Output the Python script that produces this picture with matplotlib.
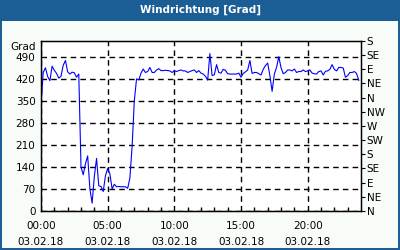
import numpy as np
import pandas as pd
import matplotlib
matplotlib.use("Agg")
import matplotlib.pyplot as plt
import matplotlib.dates as mdates
from matplotlib.patches import Rectangle

# wind direction, 10-minute values, 03.02.18 00:00 .. 23:50
wind_dir = [
    335, 440, 455, 427, 414, 460,
    447, 437, 422, 428, 463, 478,
    442, 435, 441, 439, 425, 435,
    140, 115, 150, 175, 70, 25,
    110, 167, 80, 78, 62, 112,
    135, 118, 70, 85, 77, 78,
    77, 77, 77, 72, 105, 205,
    351, 420, 416, 438, 451, 440,
    443, 456, 440, 440, 448, 452,
    446, 446, 447, 446, 445, 440,
    446, 443, 446, 448, 445, 445,
    440, 443, 446, 448, 440, 446,
    438, 435, 428, 416, 500, 430,
    433, 465, 440, 438, 450, 447,
    436, 435, 435, 435, 435, 438,
    425, 437, 442, 448, 478, 437,
    440, 440, 436, 432, 450, 462,
    470, 430, 380, 435, 456, 490,
    456, 436, 440, 448, 448, 445,
    451, 440, 443, 443, 448, 443,
    445, 448, 438, 436, 435, 443,
    445, 432, 444, 445, 450, 465,
    450, 445, 456, 456, 454, 425,
    430, 440, 440, 443, 437, 415,
]
times = pd.date_range("2018-02-03 00:00", periods=len(wind_dir), freq="10min")

left_ticks = [0, 70, 140, 210, 280, 350, 420, 490]
right_ticks = [0, 45, 90, 135, 180, 225, 270, 315, 360, 405, 450, 495, 540]
right_labels = ["N", "NE", "E", "SE", "S", "SW", "W", "NW", "N", "NE", "E", "SE", "S"]

frame_blue = "#1b5e95"
panel_bg = "#f8fcf8"

plt.rcParams["font.family"] = "DejaVu Sans"
plt.rcParams["font.size"] = 7.5

fig = plt.figure(figsize=(4, 2.5), dpi=100)
fig.patch.set_facecolor(frame_blue)
fig.add_artist(Rectangle((2 / 400, 2 / 250), 396 / 400, 227 / 250,
                         transform=fig.transFigure, facecolor=panel_bg,
                         edgecolor="none", zorder=0))
fig.text(0.5, 1 - 10 / 250, "Windrichtung [Grad]", color="white",
         fontweight="bold", fontsize=7.5, ha="center", va="center")

ax = fig.add_axes([41 / 400, 1 - 211 / 250, 320 / 400, 170 / 250])
ax.set_facecolor("white")
ax.plot(times, wind_dir, color="#0000ff", linewidth=0.8)

# stop just short of midnight so no 00:00 label appears on the right edge
ax.set_xlim(pd.Timestamp("2018-02-03 00:00"), pd.Timestamp("2018-02-03 23:59:59"))
ax.set_ylim(0, 540)
ax.set_yticks(left_ticks)
ax.tick_params(axis="y", length=0, pad=4)
ax.text(-0.015, 522, "Grad", transform=ax.get_yaxis_transform(),
        ha="right", va="center")

ax.xaxis.set_major_locator(mdates.HourLocator(byhour=[0, 5, 10, 15, 20]))
ax.xaxis.set_major_formatter(mdates.DateFormatter("%H:%M\n%d.%m.%y"))
ax.xaxis.set_minor_locator(mdates.HourLocator(interval=1))
ax.tick_params(axis="x", which="major", length=0, pad=7)
ax.tick_params(axis="x", which="minor", direction="in", length=3, width=1)
for lbl in ax.get_xticklabels():
    lbl.set_linespacing(1.8)

ax.grid(True, which="major", color="black", linestyle=(0, (4, 3)), linewidth=1)
for s in ax.spines.values():
    s.set_color("black")
    s.set_linewidth(1)

ax2 = ax.twinx()
ax2.set_ylim(0, 540)
ax2.set_yticks(right_ticks)
ax2.set_yticklabels(right_labels)
ax2.tick_params(axis="y", direction="out", length=3, pad=1)

fig.savefig("out.png", dpi=100, facecolor=fig.get_facecolor())
